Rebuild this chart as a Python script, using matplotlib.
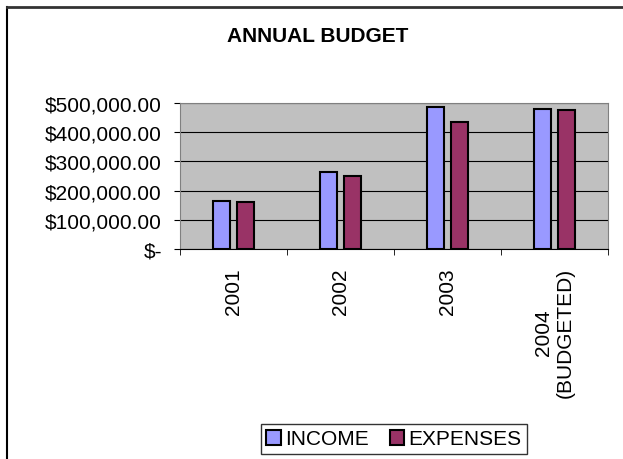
import matplotlib
matplotlib.use("Agg")
import matplotlib.pyplot as plt
from matplotlib.lines import Line2D
import numpy as np

plt.rcParams["font.family"] = ["Liberation Sans", "DejaVu Sans"]
plt.rcParams["font.size"] = 15

years = ["2001", "2002", "2003", "2004\n(BUDGETED)"]
income = [164000, 265000, 485000, 478000]
expenses = [161000, 251000, 436000, 475000]
yticks = [0, 100000, 200000, 300000, 400000, 500000]
ytick_labels = ["$-", "$100,000.00", "$200,000.00", "$300,000.00", "$400,000.00", "$500,000.00"]

fig = plt.figure(figsize=(6.23, 4.6), dpi=100)
W, H = 623, 460
ax = fig.add_axes([180 / W, 1 - 250 / H, (608 - 180) / W, (250 - 104) / H])

x = np.arange(len(years))
w = 0.16
ax.bar(x - 0.115, income, w, color="#9999ff", edgecolor="black", linewidth=1.5, label="INCOME", zorder=3)
ax.bar(x + 0.115, expenses, w, color="#993366", edgecolor="black", linewidth=1.5, label="EXPENSES", zorder=3)

ax.set_facecolor("#c0c0c0")
ax.set_xlim(-0.5, len(years) - 0.5)
ax.set_ylim(0, 500000)
ax.set_yticks(yticks)
ax.set_yticklabels(ytick_labels)
ax.yaxis.grid(True, color="black", linewidth=0.8, zorder=0)
ax.set_axisbelow(True)

ax.set_xticks(x)
ax.set_xticklabels(years, rotation=90, va="top", ha="center", multialignment="center")
ax.tick_params(axis="x", length=0, pad=13)
ax.set_xticks(np.arange(len(years) + 1) - 0.5, minor=True)
ax.tick_params(axis="x", which="minor", length=4.5, direction="out")
ax.tick_params(axis="y", length=4.5, direction="out", pad=8.5)

for s in ["top", "right", "left"]:
    ax.spines[s].set_color("#808080")
ax.spines["bottom"].set_color("black")

fig.text(318 / W, 1 - 37 / H, "ANNUAL BUDGET", ha="center", va="center", fontsize=15, fontweight="bold")

leg = fig.legend(loc="center", bbox_to_anchor=(394 / W, 1 - 440 / H), ncol=2, frameon=True,
                 fancybox=False, edgecolor="black", handlelength=0.7, handleheight=0.7,
                 handletextpad=0.2, columnspacing=1.0, borderpad=0.25, borderaxespad=0)
leg.get_frame().set_linewidth(1.0)

# outer border (top and left)
fig.add_artist(Line2D([7 / W, 7 / W], [0, 1 - 8 / H], color="black", linewidth=1.5))
fig.add_artist(Line2D([7 / W, 1], [1 - 8 / H, 1 - 8 / H], color="#333333", linewidth=2))

fig.savefig("out.png", dpi=100)
